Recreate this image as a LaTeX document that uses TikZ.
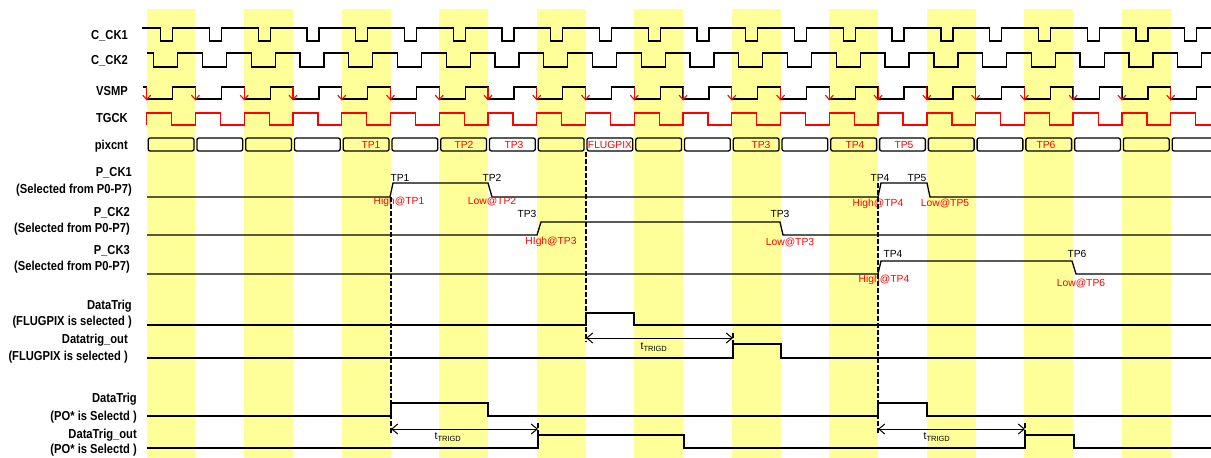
\documentclass[tikz,border=0pt]{standalone}
\usepackage{fontspec}
\setmainfont{Liberation Sans}
\newfontfamily\lblfont{Liberation Sans}[FakeStretch=0.86]
\usetikzlibrary{arrows.meta}
\definecolor{stripe}{HTML}{FFFF99}
\begin{document}
\begin{tikzpicture}[x=1pt,y=-1pt,
  sig/.style={line width=1.3pt,black},
  rsig/.style={line width=1.3pt,red},
  lbl/.style={font=\lblfont\bfseries\fontsize{13}{15}\selectfont,anchor=east,inner sep=0pt,text height=9.3pt,text depth=0pt},
  tpk/.style={font=\fontsize{10.3}{12}\selectfont,inner sep=0pt,text height=7.2pt,text depth=0pt},
  tpr/.style={tpk,text=red},
  guide/.style={line width=1.1pt,dash pattern=on 4.5pt off 2.5pt},
  meas/.style={line width=1pt,{Straight Barb[length=6pt,width=10pt]}-{Straight Barb[length=6pt,width=10pt]}},
  vtip/.style={red,line width=1.1pt,-{Straight Barb[length=4.5pt,width=8pt]}},
  tlbl/.style={font=\fontsize{10.5}{12}\selectfont,inner sep=0pt},
]
\clip (0,0) rectangle (1211,458);
\fill[white] (0,0) rectangle (1211,458);
% stripes
\foreach \k in {0,2,...,20}{
  \fill[stripe] ({146.7+\k*48.76},9) rectangle ({146.7+(\k+1)*48.76},458);
}
% labels
\node[lbl] (lck1) at (128,35) {C\_CK1};
\node[lbl] (lck2) at (128,60) {C\_CK2};
\node[lbl] (lvsmp) at (128,91) {VSMP};
\node[lbl] (ltgck) at (128,118) {TGCK};
\node[lbl] (lpix) at (128,145) {pixcnt};
\node[lbl] (lp1a) at (132,172) {P\_CK1};
\node[lbl] (lp1b) at (132,189) {(Selected from P0-P7)};
\node[lbl] (lp2a) at (130,212) {P\_CK2};
\node[lbl] (lp2b) at (130,228) {(Selected from P0-P7)};
\node[lbl] (lp3a) at (130,250) {P\_CK3};
\node[lbl] (lp3b) at (130,266) {(Selected from P0-P7)};
\node[lbl] (ldfa) at (132,305) {DataTrig};
\node[lbl] (ldfb) at (132,321) {(FLUGPIX is selected )};
\node[lbl] (ldoa) at (128,339) {Datatrig\_out};
\node[lbl] (ldob) at (128,356) {(FLUGPIX is selected )};
\node[lbl] (lpda) at (137,398) {DataTrig};
\node[lbl] (lpdb) at (137,416) {(PO* is Selectd )};
\node[lbl] (lpoa) at (137,434) {DataTrig\_out};
\node[lbl] (lpob) at (137,449) {(PO* is Selectd )};
% C_CK1
\draw[sig] (142,28) foreach \k [evaluate=\k as \xa using 146.7+\k*48.76] in {0,...,21} { -- (\xa+14,28) -- (\xa+14,41) -- (\xa+26,41) -- (\xa+26,28) } -- (1211,28);
% C_CK2
\draw[sig] (147,53) foreach \k [evaluate=\k as \xa using 146.7+\k*48.76] in {0,...,21} { -- (\xa+7,53) -- (\xa+7,67) -- (\xa+31,67) -- (\xa+31,53) } -- (1211,53);
% VSMP
\draw[sig] (143,87) foreach \k [evaluate=\k as \xa using 146.7+\k*48.76] in {0,...,21} { -- (\xa,87) -- (\xa,99) -- (\xa+26,99) -- (\xa+26,87) } -- (1211,87);
\foreach \k in {0,...,21}{
  \draw[vtip] ({146.7+\k*48.76},87) -- ++(0,13.5);
}
% TGCK
\draw[rsig] (146.7,125) foreach \k [evaluate=\k as \xa using 146.7+\k*48.76] in {0,...,21} { -- (\xa,125) -- (\xa,113) -- (\xa+25,113) -- (\xa+25,125) } -- (1211,125);
% pixcnt
\foreach \k in {0,...,21}{
  \draw[sig,rounded corners=2pt] ({146.7+\k*48.76+1.5},138) rectangle ({146.7+(\k+1)*48.76-1.5},151);
}
\node[tpr] (px1) at (371,145) {TP1};
\node[tpr] (px2) at (464,145) {TP2};
\node[tpr] (px3) at (514,145) {TP3};
\node[tpr] (pxf) at (610,145) {FLUGPIX};
\node[tpr] (px3b) at (761,145) {TP3};
\node[tpr] (px4) at (855,145) {TP4};
\node[tpr] (px5) at (904,145) {TP5};
\node[tpr] (px6) at (1046,145) {TP6};
% P_CK1
\draw[sig] (147,197) -- (390,197) -- (393,183) -- (488,183) -- (492,197) -- (878,197) -- (881,183) -- (927,183) -- (930,197) -- (1211,197);
\node[tpk] (a1) at (400,178) {TP1};
\node[tpk] (a2) at (492,178) {TP2};
\node[tpr] (a3) at (399,201) {High@TP1};
\node[tpr] (a4) at (492,201) {Low@TP2};
\node[tpk] (a5) at (880,178) {TP4};
\node[tpk] (a6) at (917,178) {TP5};
\node[tpr] (a7) at (878,203) {High@TP4};
\node[tpr] (a8) at (945,203) {Low@TP5};
% P_CK2
\draw[sig] (147,235) -- (537,235) -- (541,222) -- (780,222) -- (783,235) -- (1211,235);
\node[tpk] (b1) at (527,214) {TP3};
\node[tpr] (b2) at (551,241) {HIgh@TP3};
\node[tpk] (b3) at (780,214) {TP3};
\node[tpr] (b4) at (790,242) {Low@TP3};
% P_CK3
\draw[sig] (147,274) -- (878,274) -- (881,261) -- (1072,261) -- (1076,274) -- (1211,274);
\node[tpk] (c1) at (893,254) {TP4};
\node[tpr] (c2) at (884,279) {High@TP4};
\node[tpk] (c3) at (1077,254) {TP6};
\node[tpr] (c4) at (1081,283) {Low@TP6};
% DataTrig FLUGPIX
\draw[sig] (147,325) -- (586,325) -- (586,313) -- (634,313) -- (634,325) -- (1211,325);
\draw[sig] (147,358) -- (733,358) -- (733,344) -- (781,344) -- (781,358) -- (1211,358);
% DataTrig PO
\draw[sig] (147,416) -- (391,416) -- (391,403) -- (488,403) -- (488,416) -- (878,416) -- (878,403) -- (927,403) -- (927,416) -- (1211,416);
\draw[sig] (147,448) -- (538,448) -- (538,435) -- (684,435) -- (684,448) -- (1025,448) -- (1025,435) -- (1074,435) -- (1074,448) -- (1211,448);
% guides
\coordinate (g1t) at (391,197); \coordinate (g1b) at (391,433);
\coordinate (g2t) at (586,152); \coordinate (g2b) at (586,342);
\coordinate (g3t) at (878,183); \coordinate (g3b) at (878,433);
\draw[guide] (g1t) -- (g1b);
\draw[guide] (g2t) -- (g2b);
\draw[guide] (g3t) -- (g3b);
\coordinate (k1t) at (733,333); \coordinate (k1b) at (733,344);
\coordinate (k2t) at (538,423); \coordinate (k2b) at (538,435);
\coordinate (k3t) at (1025,423); \coordinate (k3b) at (1025,435);
\draw[guide] (k1t) -- (k1b);
\draw[guide] (k2t) -- (k2b);
\draw[guide] (k3t) -- (k3b);
% t_TRIGD
\coordinate (m1a) at (586,338); \coordinate (m1b) at (733,338);
\coordinate (m2a) at (391,429); \coordinate (m2b) at (538,429);
\coordinate (m3a) at (878,429); \coordinate (m3b) at (1025,429);
\draw[meas] (m1a) -- (m1b);
\draw[meas] (m2a) -- (m2b);
\draw[meas] (m3a) -- (m3b);
\node[tlbl] (t1) at (654,347) {t\textsubscript{\fontsize{7.5}{8}\selectfont TRIGD}};
\node[tlbl] (t2) at (448,437) {t\textsubscript{\fontsize{7.5}{8}\selectfont TRIGD}};
\node[tlbl] (t3) at (937,437) {t\textsubscript{\fontsize{7.5}{8}\selectfont TRIGD}};
\end{tikzpicture}
\end{document}
